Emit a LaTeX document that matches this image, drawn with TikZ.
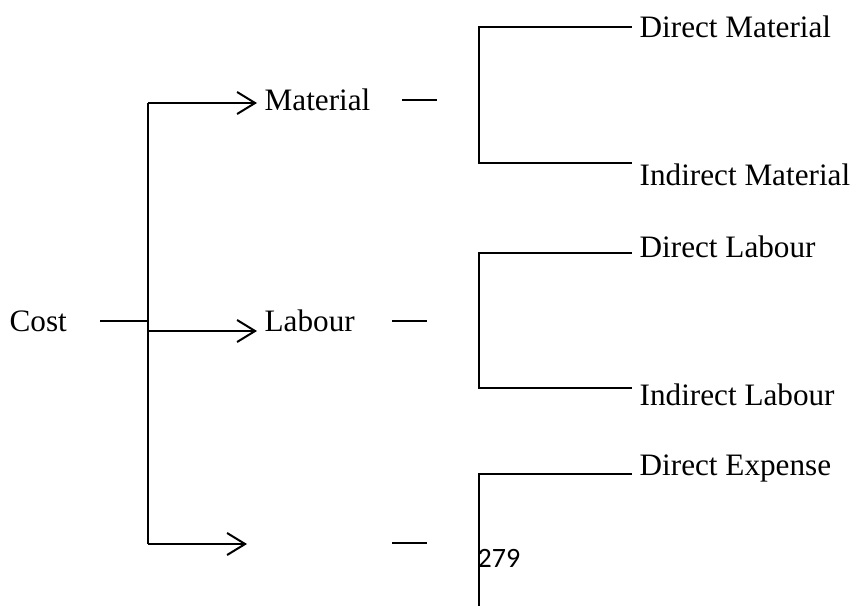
\documentclass[tikz,border=0pt]{standalone}
\usepackage{fontspec}
\setmainfont{Liberation Serif}
\newfontfamily\pgnum{Carlito}
\usepackage{tikz}
\usetikzlibrary{arrows.meta}

\begin{document}
\begin{tikzpicture}[>={Straight Barb[length=9pt,width=11pt]}, x=0.5pt, y=-0.5pt,
    line width=1pt, lbl/.style={anchor=west, font=\fontsize{15.6}{18}\selectfont}]
        \useasboundingbox (0,0) rectangle (861,606);
        \node (cost) at (2,321) [lbl] {Cost};
        \node (mat) at (257,100) [lbl] {Material};
        \node (lab) at (257,321) [lbl] {Labour};
        \coordinate (exp) at (247,544);
        \node (dm) at (632,27) [lbl] {Direct Material};
        \node (im) at (632,175) [lbl] {Indirect Material};
        \node (dl) at (632,247) [lbl] {Direct Labour};
        \node (il) at (632,395) [lbl] {Indirect Labour};
        \node (de) at (632,468) [lbl] {Direct Expense};
        \node (pg) at (470,558) [anchor=west, font=\pgnum\fontsize{14}{16}\selectfont] {279};

        \coordinate (c0) at (100,321);
        \coordinate (t1) at (148,103);
        \coordinate (t2) at (148,331);
        \coordinate (t3) at (148,544);
        \draw (c0)--(148,321);
        \draw (t1)--(t3);
        \draw[->] (t1)--(mat.west |- t1);
        \draw[->] (t2)--(lab.west |- t2);
        \draw[->] (t3)--(exp);

        \draw (402,100)--(437,100);
        \draw (392,321)--(427,321);
        \draw (392,543)--(427,543);

        \coordinate (m1) at (479,27);
        \coordinate (m2) at (479,163);
        \coordinate (l1) at (479,253);
        \coordinate (l2) at (479,388);
        \coordinate (e1) at (479,474);
        \coordinate (e2) at (479,606);
        \draw (dm.west)--(m1)--(m2)--(im.west |- m2);
        \draw (dl.west |- l1)--(l1)--(l2)--(il.west |- l2);
        \draw (de.west |- e1)--(e1)--(e2);

    \end{tikzpicture}
\end{document}
